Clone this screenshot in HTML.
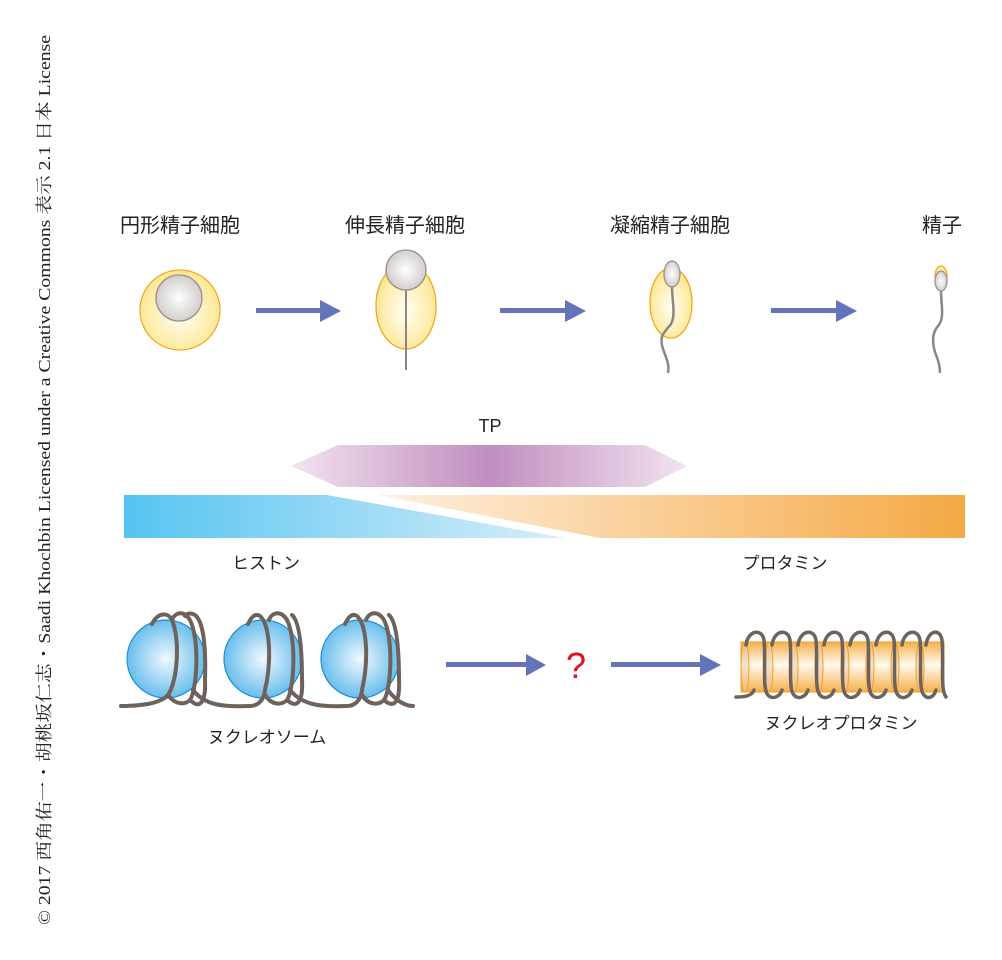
<!DOCTYPE html>
<html><head><meta charset="utf-8"><style>
body{margin:0;background:#fff;}
svg{display:block;}
text{font-family:"Liberation Sans","Noto Sans CJK JP",sans-serif;}
</style></head><body>
<svg width="1002" height="960" viewBox="0 0 1002 960" xmlns="http://www.w3.org/2000/svg">
<defs>
<radialGradient id="cy" cx="50%" cy="55%" r="55%"><stop offset="0" stop-color="#fffef5"/><stop offset="1" stop-color="#fde68f"/></radialGradient>
<radialGradient id="nu" cx="50%" cy="50%" r="55%"><stop offset="0" stop-color="#ffffff"/><stop offset="1" stop-color="#cdc9c7"/></radialGradient>
<radialGradient id="bl" cx="50%" cy="50%" r="55%"><stop offset="0" stop-color="#f0f9ff"/><stop offset="1" stop-color="#5cb8ea"/></radialGradient>
<linearGradient id="tp" x1="0" x2="1"><stop offset="0" stop-color="#f2e3ef"/><stop offset="0.5" stop-color="#c08ebf"/><stop offset="1" stop-color="#f2e3ef"/></linearGradient>
<linearGradient id="hs" x1="0" x2="1"><stop offset="0" stop-color="#55c4f0"/><stop offset="1" stop-color="#d8eefa"/></linearGradient>
<linearGradient id="pr" x1="0" x2="1"><stop offset="0" stop-color="#fef0e0"/><stop offset="1" stop-color="#f4a944"/></linearGradient>
<linearGradient id="cyl" x1="0" y1="0" x2="0" y2="1"><stop offset="0" stop-color="#f6b04a"/><stop offset="0.45" stop-color="#fffaf0"/><stop offset="1" stop-color="#f6b04a"/></linearGradient>
</defs>

<text x="0" y="0" transform="translate(50,925) rotate(-90)" font-size="17" fill="#222" textLength="890" lengthAdjust="spacingAndGlyphs" style="font-family:'Liberation Serif','Noto Serif CJK SC',serif">© 2017 西角佑一・胡桃坂仁志・Saadi Khochbin Licensed under a Creative Commons 表示 2.1 日本 License</text>

<g font-size="20" fill="#222" text-anchor="middle">
<text x="180" y="232">円形精子細胞</text>
<text x="405" y="232">伸長精子細胞</text>
<text x="670" y="232">凝縮精子細胞</text>
<text x="942" y="232">精子</text>
</g>

<!-- cell1 -->
<circle cx="180" cy="310" r="40" fill="url(#cy)" stroke="#f3a81d" stroke-width="1.3"/>
<circle cx="179" cy="298" r="23" fill="url(#nu)" stroke="#9a8f8a" stroke-width="1.3"/>
<!-- cell2 -->
<ellipse cx="406" cy="306" rx="30" ry="43" fill="url(#cy)" stroke="#f3a81d" stroke-width="1.3"/>
<line x1="406" y1="290" x2="406" y2="370" stroke="#8e8480" stroke-width="2"/>
<circle cx="406" cy="270" r="20" fill="url(#nu)" stroke="#9a8f8a" stroke-width="1.3"/>
<!-- cell3 -->
<ellipse cx="671" cy="303" rx="21" ry="35" fill="url(#cy)" stroke="#f3a81d" stroke-width="1.3"/>
<path d="M672,287 C672,300 676,315 671,324 C664,333 660,335 662,345 C664,355 670,362 668,373" fill="none" stroke="#8e8480" stroke-width="2.5"/>
<ellipse cx="672" cy="274" rx="8" ry="13" fill="url(#nu)" stroke="#9a8f8a" stroke-width="1.3"/>
<!-- sperm -->
<ellipse cx="941" cy="276" rx="6" ry="10" fill="url(#cy)" stroke="#f3a81d" stroke-width="1.3"/>
<path d="M941,290 C941,305 945,318 938,326 C932,333 932,342 935,352 C938,360 940,365 940,373" fill="none" stroke="#8e8480" stroke-width="2.5"/>
<ellipse cx="941" cy="281" rx="6" ry="10" fill="url(#nu)" stroke="#9a8f8a" stroke-width="1.3"/>

<g fill="#6474bb">
<rect x="256" y="308" width="66" height="5"/><polygon points="320,300 341,311 320,322"/>
<rect x="500" y="308" width="67" height="5"/><polygon points="565,300 586,311 565,322"/>
<rect x="771" y="308" width="67" height="5"/><polygon points="836,300 857,311 836,322"/>
<rect x="446" y="662" width="82" height="5"/><polygon points="526,654 546,665 526,676"/>
<rect x="611" y="662" width="92" height="5"/><polygon points="700,654 721,665 700,676"/>
</g>

<text x="490" y="432" font-size="18" fill="#222" text-anchor="middle">TP</text>
<polygon points="291,466 338,445 645,445 687,466 645,487 338,487" fill="url(#tp)"/>
<polygon points="124,495 327,495 565,538 124,538" fill="url(#hs)"/>
<polygon points="378,495 965,495 965,538 600,538" fill="url(#pr)"/>
<text x="266" y="569" font-size="17" fill="#222" text-anchor="middle">ヒストン</text>
<text x="785" y="569" font-size="17" fill="#222" text-anchor="middle">プロタミン</text>

<!-- nucleosomes -->
<g stroke="#1b8fd6" stroke-width="1.2" fill="url(#bl)">
<circle cx="166" cy="659" r="39"/>
<circle cx="263" cy="659" r="39"/>
<circle cx="360" cy="659" r="39"/>
</g>
<g fill="none" stroke="#6e625c" stroke-width="4" stroke-linecap="round">
<path d="M121,706 C140,706 160,704 168,695 C178,680 180,640 172,620 C168,612 158,612 152,624"/>
<path d="M168,695 C175,705 185,705 190,700 C197,690 200,640 190,620 C184,610 175,612 172,620"/>
<path d="M190,700 C200,710 206,702 205,680 C206,650 204,622 195,615 C190,612 186,614 185,616"/>
<path d="M193,690 C205,706 225,707 250,706 C258,706 264,700 265,690 C272,660 270,625 260,616 C254,612 250,620 248,624"/>
<path d="M265,695 C272,706 282,705 287,700 C294,690 297,640 287,620 C281,610 272,612 269,620"/>
<path d="M287,700 C298,710 303,700 302,680 C302,650 300,622 292,615"/>
<path d="M290,690 C303,706 323,707 347,706 C355,706 361,700 362,690 C369,660 367,625 357,616 C351,612 347,620 345,624"/>
<path d="M362,695 C369,706 379,705 384,700 C391,690 394,640 384,620 C378,610 369,612 366,620"/>
<path d="M384,700 C395,710 400,700 399,680 C399,650 397,622 389,615"/>
<path d="M388,690 C395,700 405,706 413,706"/>
</g>
<text x="267" y="743" font-size="17" fill="#222" text-anchor="middle">ヌクレオソーム</text>
<text x="576" y="678" font-size="36" fill="#e0101c" text-anchor="middle">?</text>

<!-- nucleoprotamine -->
<g>
<rect x="741" y="642" width="203" height="50" fill="url(#cyl)" stroke="#f0a020" stroke-width="1"/>
<g stroke="#f0a020" stroke-width="1" fill="#e9c9a6" fill-opacity="0.5">
<ellipse cx="745" cy="667" rx="4" ry="25"/><ellipse cx="769" cy="667" rx="4" ry="25"/><ellipse cx="794" cy="667" rx="4" ry="25"/><ellipse cx="819" cy="667" rx="4" ry="25"/><ellipse cx="845" cy="667" rx="4" ry="25"/><ellipse cx="870" cy="667" rx="4" ry="25"/><ellipse cx="895" cy="667" rx="4" ry="25"/><ellipse cx="920" cy="667" rx="4" ry="25"/>
</g>
<g fill="none" stroke="#6e625c" stroke-width="3.5" stroke-linecap="round">
<path d="M736,697 C745,697 752,696 754,690 M746,645 C748,630 762,628 764,640 C766,660 762,690 768,695 C772,700 780,697 782,690"/>
<path d="M772,645 C774,630 788,628 790,640 C792,660 788,690 794,695 C798,700 806,697 808,690"/>
<path d="M798,645 C800,630 814,628 816,640 C818,660 814,690 820,695 C824,700 832,697 834,690"/>
<path d="M824,645 C826,630 840,628 842,640 C844,660 840,690 846,695 C850,700 858,697 860,690"/>
<path d="M850,645 C852,630 866,628 868,640 C870,660 866,690 872,695 C876,700 884,697 886,690"/>
<path d="M876,645 C878,630 892,628 894,640 C896,660 892,690 898,695 C902,700 910,697 912,690"/>
<path d="M902,645 C904,630 918,628 920,640 C922,660 918,690 924,695 C928,700 934,697 936,690"/>
<path d="M926,645 C928,630 940,628 942,640 C944,660 940,690 946,697"/>
</g>
</g>
<text x="841" y="729" font-size="17" fill="#222" text-anchor="middle">ヌクレオプロタミン</text>
</svg>
</body></html>
